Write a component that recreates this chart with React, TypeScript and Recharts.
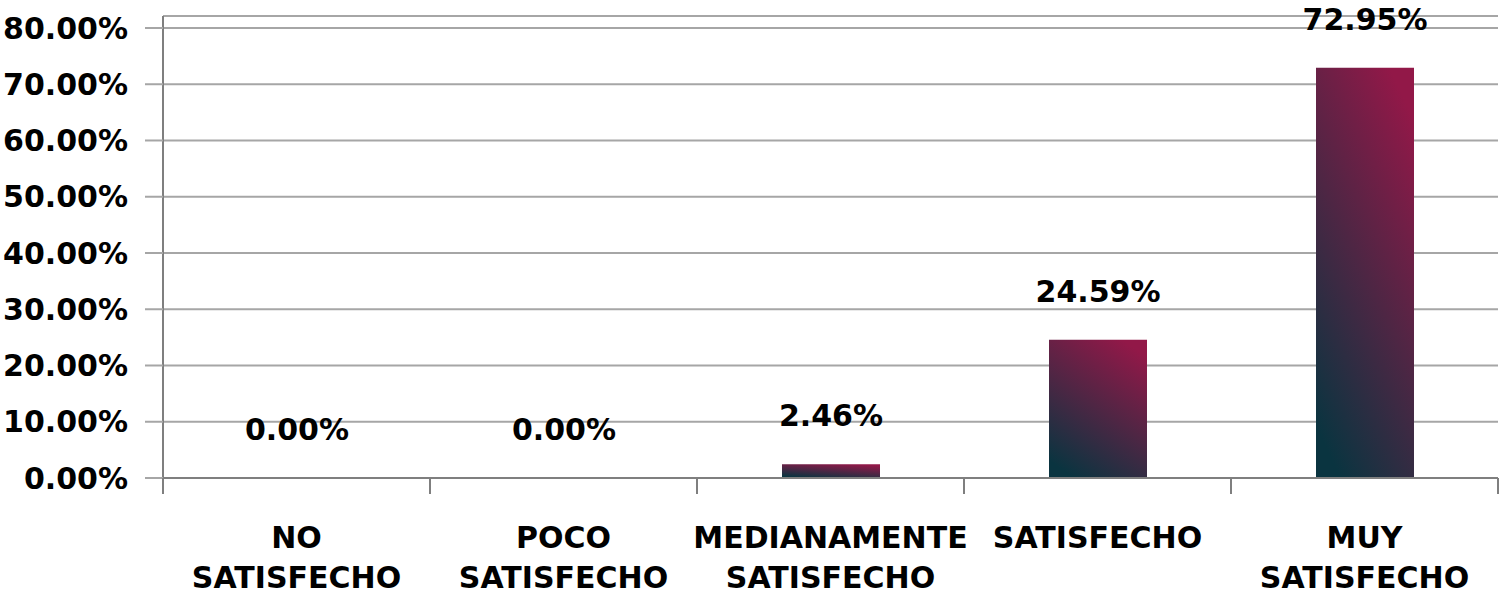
import React from 'react';
import { BarChart, Bar, XAxis, YAxis, CartesianGrid, LabelList } from 'recharts';

const categories = ['NO SATISFECHO', 'POCO SATISFECHO', 'MEDIANAMENTE SATISFECHO', 'SATISFECHO', 'MUY SATISFECHO'];
const percentages = [0, 0, 2.46, 24.59, 72.95];
const yTicks = [0, 10, 20, 30, 40, 50, 60, 70, 80];

const data = categories.map((name, i) => ({ name, value: percentages[i] }));

const FONT = '"DejaVu Sans", sans-serif';
const fmt = (v: number) => `${Number(v).toFixed(2)}%`;

// category label split in two lines, plus tick marks between the bands
const CategoryTick = (props: any) => {
  const { x, y, payload, index } = props;
  const half = payload && payload.offset ? payload.offset : 133.5;
  const words = String(payload.value).split(' ');
  return (
    <g>
      <line x1={x - half} y1={y} x2={x - half} y2={y + 16} stroke="#7f7f7f" strokeWidth={2} />
      {index === categories.length - 1 && (
        <line x1={x + half} y1={y} x2={x + half} y2={y + 16} stroke="#7f7f7f" strokeWidth={2} />
      )}
      {words.map((w, i) => (
        <text
          key={i}
          x={x}
          y={y + 70 + i * 40}
          textAnchor="middle"
          fill="#000"
          fontSize={30}
          fontWeight={700}
          fontFamily={FONT}
        >
          {w}
        </text>
      ))}
    </g>
  );
};

const App: React.FC = () => {
  return (
    <div style={{ position: 'absolute', left: 0, top: 0, background: '#fff' }}>
      <BarChart
        width={1503}
        height={594}
        data={data}
        margin={{ top: 16, right: 5, bottom: 0, left: 0 }}
      >
        <defs>
          <linearGradient id="barFill" x1="0.75" y1="0" x2="0.25" y2="1">
            <stop offset="0%" stopColor="#921848" />
            <stop offset="100%" stopColor="#0a3440" />
          </linearGradient>
        </defs>
        <CartesianGrid vertical={false} stroke="#a6a6a6" strokeWidth={2} />
        <Bar
          dataKey="value"
          fill="url(#barFill)"
          barSize={98}
          minPointSize={0.5}
          isAnimationActive={false}
        >
          <LabelList
            dataKey="value"
            position="top"
            offset={38}
            formatter={(v: any) => fmt(v)}
            fill="#000"
            fontSize={30}
            fontWeight={700}
            fontFamily={FONT}
          />
        </Bar>
        <XAxis
          dataKey="name"
          height={116}
          interval={0}
          tickLine={false}
          tickSize={0}
          tickMargin={0}
          axisLine={{ stroke: '#7f7f7f', strokeWidth: 2 }}
          tick={<CategoryTick />}
        />
        <YAxis
          width={163}
          domain={[0, 82.13]}
          ticks={yTicks}
          allowDataOverflow
          tickFormatter={fmt}
          tickSize={18}
          tickMargin={17}
          tickLine={{ stroke: '#a6a6a6', strokeWidth: 2 }}
          axisLine={{ stroke: '#7f7f7f', strokeWidth: 2 }}
          tick={{ fill: '#000', fontSize: 30, fontWeight: 700, fontFamily: FONT }}
        />
      </BarChart>
    </div>
  );
};

export default App;
